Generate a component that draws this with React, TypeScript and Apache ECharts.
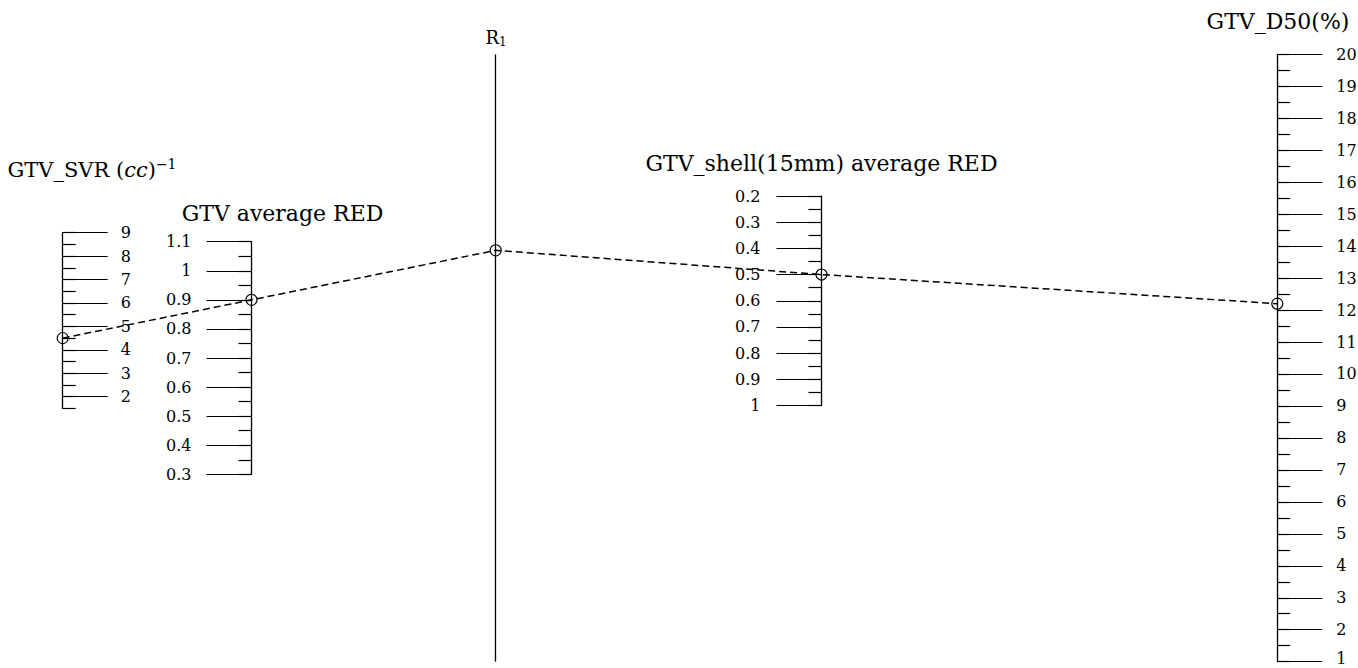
import React, { useEffect, useRef } from 'react';
import * as echarts from 'echarts';

// ---- data ----
const svrTicks = [2, 3, 4, 5, 6, 7, 8, 9];
const svrExtent = [1.5, 9];
const gtvRedTicks = [0.3, 0.4, 0.5, 0.6, 0.7, 0.8, 0.9, 1, 1.1];
const gtvRedExtent = [0.3, 1.1];
const shellRedTicks = [0.2, 0.3, 0.4, 0.5, 0.6, 0.7, 0.8, 0.9, 1];
const shellRedExtent = [0.2, 1];
const d50Ticks = [1, 2, 3, 4, 5, 6, 7, 8, 9, 10, 11, 12, 13, 14, 15, 16, 17, 18, 19, 20];
const d50Extent = [1, 20];
const minorSteps = [0.5, 0.05, 0.05, 0.5];
// sample case: SVR, GTV avg RED, shell avg RED, D50
const sampleValues = [4.5, 0.9, 0.5, 12.2];

const FONT = '"DejaVu Serif", serif';
const INK = '#000';

type Spec = {
  lineX: number; top: number; bottom: number; side: 'left' | 'right';
  ticks: number[]; extent: number[]; minor: number; inverse: boolean; margin: number; liftMin?: boolean;
};

const specs: Spec[] = [
  { lineX: 62.7, top: 232.7, bottom: 408.4, side: 'right', ticks: svrTicks, extent: svrExtent, minor: minorSteps[0], inverse: false, margin: 58 },
  { lineX: 251.5, top: 241.7, bottom: 474.3, side: 'left', ticks: gtvRedTicks, extent: gtvRedExtent, minor: minorSteps[1], inverse: false, margin: 60 },
  { lineX: 821.5, top: 196, bottom: 405.5, side: 'left', ticks: shellRedTicks, extent: shellRedExtent, minor: minorSteps[2], inverse: true, margin: 61 },
  { lineX: 1277.3, top: 54.3, bottom: 661.7, side: 'right', ticks: d50Ticks, extent: d50Extent, minor: minorSteps[3], inverse: false, margin: 59, liftMin: true },
];
const r1 = { lineX: 495.7, top: 55, bottom: 661 };

export default function App() {
  const ref = useRef<HTMLDivElement>(null);
  useEffect(() => {
    const chart = echarts.init(ref.current!, null, { renderer: 'svg' });
    const grids: any[] = [];
    const xAxes: any[] = [];
    const yAxes: any[] = [];
    const majorY: number[] = [];
    const gridOf: number[] = [];
    const addGrid = (lineX: number, top: number, bottom: number, side: string) => {
      grids.push({
        left: side === 'right' ? lineX - 10 : lineX,
        width: 10, top, height: bottom - top,
        containLabel: false, outerBoundsMode: 'none', show: false,
      });
      xAxes.push({ gridIndex: grids.length - 1, type: 'value', min: 0, max: 1, show: false });
      return grids.length - 1;
    };
    const lineStyle = { color: INK, width: 1.2 };
    specs.forEach((s, k) => {
      if (k === 2) {
        const g = addGrid(r1.lineX, r1.top, r1.bottom, 'left');
        yAxes.push({
          gridIndex: g, type: 'value', position: 'left', min: 0, max: 1,
          axisLine: { show: true, lineStyle: { color: INK, width: 1.3 } },
          axisTick: { show: false }, axisLabel: { show: false }, splitLine: { show: false },
        });
      }
      const g = addGrid(s.lineX, s.top, s.bottom, s.side);
      gridOf.push(g);
      yAxes.push({
        gridIndex: g, type: 'value', position: s.side, min: s.extent[0], max: s.extent[1],
        interval: s.minor, inverse: s.inverse,
        axisLine: { show: true, onZero: false, lineStyle: { color: INK, width: 1.3 } },
        axisTick: { show: true, length: 13, lineStyle },
        axisLabel: { show: false }, splitLine: { show: false },
      });
      const minV = s.extent[0];
      yAxes.push({
        gridIndex: g, type: 'value', position: s.side, min: s.extent[0], max: s.extent[1],
        inverse: s.inverse,
        axisLine: { show: false, onZero: false },
        axisTick: { show: true, length: 45, customValues: s.ticks, lineStyle },
        axisLabel: {
          show: true, customValues: s.ticks, margin: s.margin, fontFamily: FONT, fontSize: 16,
          lineHeight: 12, color: INK, showMinLabel: true, showMaxLabel: true,
          formatter: s.liftMin ? (v: number) => (v === minV ? '{low|' + v + '}' : String(v)) : undefined,
          rich: s.liftMin ? { low: { fontFamily: FONT, fontSize: 16, color: INK, lineHeight: 12, padding: [0, 0, 6, 0] } } : undefined,
        },
        splitLine: { show: false },
      });
      majorY.push(yAxes.length - 1);
    });

    chart.setOption({
      animation: false,
      backgroundColor: '#fff',
      grid: grids,
      xAxis: xAxes,
      yAxis: yAxes,
      series: [],
    });

    const pts = specs.map((s, k) => {
      const x = chart.convertToPixel({ xAxisIndex: gridOf[k] } as any, s.side === 'right' ? 1 : 0) as unknown as number;
      const y = chart.convertToPixel({ yAxisIndex: majorY[k] } as any, sampleValues[k]) as unknown as number;
      return [x, y];
    });
    const xR = chart.convertToPixel({ xAxisIndex: 2 } as any, 0) as unknown as number;
    const [p1, p2, p4, p5] = pts;
    const t = (xR - p1[0]) / (p2[0] - p1[0]);
    const pR = [xR, p1[1] + t * (p2[1] - p1[1])];
    const path = [p1, p2, pR, p4, p5];

    const title = (id: string, x: number, y: number, text: string, rich?: any, size = 22) => ({
      type: 'text', id, x, y, z: 10,
      style: {
        text, fontFamily: FONT, fontSize: size, fill: INK,
        align: 'center', verticalAlign: 'middle', textAlign: 'center', textVerticalAlign: 'middle',
        rich,
      },
    });
    const base = { fontFamily: FONT, fontSize: 21, fill: INK, color: INK };

    chart.setOption({
      graphic: [
        title('t1', 92, 170, '{n|GTV_SVR (}{i|cc}{n|)}{s|−1}', {
          n: { ...base, lineHeight: 26 },
          i: { ...base, fontStyle: 'italic', lineHeight: 26 },
          s: { ...base, fontSize: 14, verticalAlign: 'top', lineHeight: 14 },
        }, 21),
        title('t2', 282.5, 213, 'GTV average RED'),
        title('t3', 821.5, 163, 'GTV_shell(15mm) average RED'),
        title('t4', 1278, 21, 'GTV_D50(%)'),
        title('r1', 496, 37, '{n|R}{s|1}', {
          n: { fontFamily: FONT, fontSize: 18, fill: INK, color: INK, lineHeight: 22 },
          s: { fontFamily: FONT, fontSize: 12, fill: INK, color: INK, verticalAlign: 'bottom', lineHeight: 14 },
        }, 18),
        {
          type: 'polyline', id: 'iso', z: 20,
          shape: { points: path },
          style: { stroke: INK, lineWidth: 1.5, lineDash: [7, 4], fill: null },
        },
        ...path.map((p, i) => ({
          type: 'circle', id: 'c' + i, z: 21,
          shape: { cx: p[0], cy: p[1], r: 5.5 },
          style: { stroke: INK, lineWidth: 1.1, fill: 'none' },
        })),
      ],
    });
    return () => chart.dispose();
  }, []);
  return <div ref={ref} style={{ position: 'fixed', left: 0, top: 0, width: 1358, height: 668 }} />;
}
